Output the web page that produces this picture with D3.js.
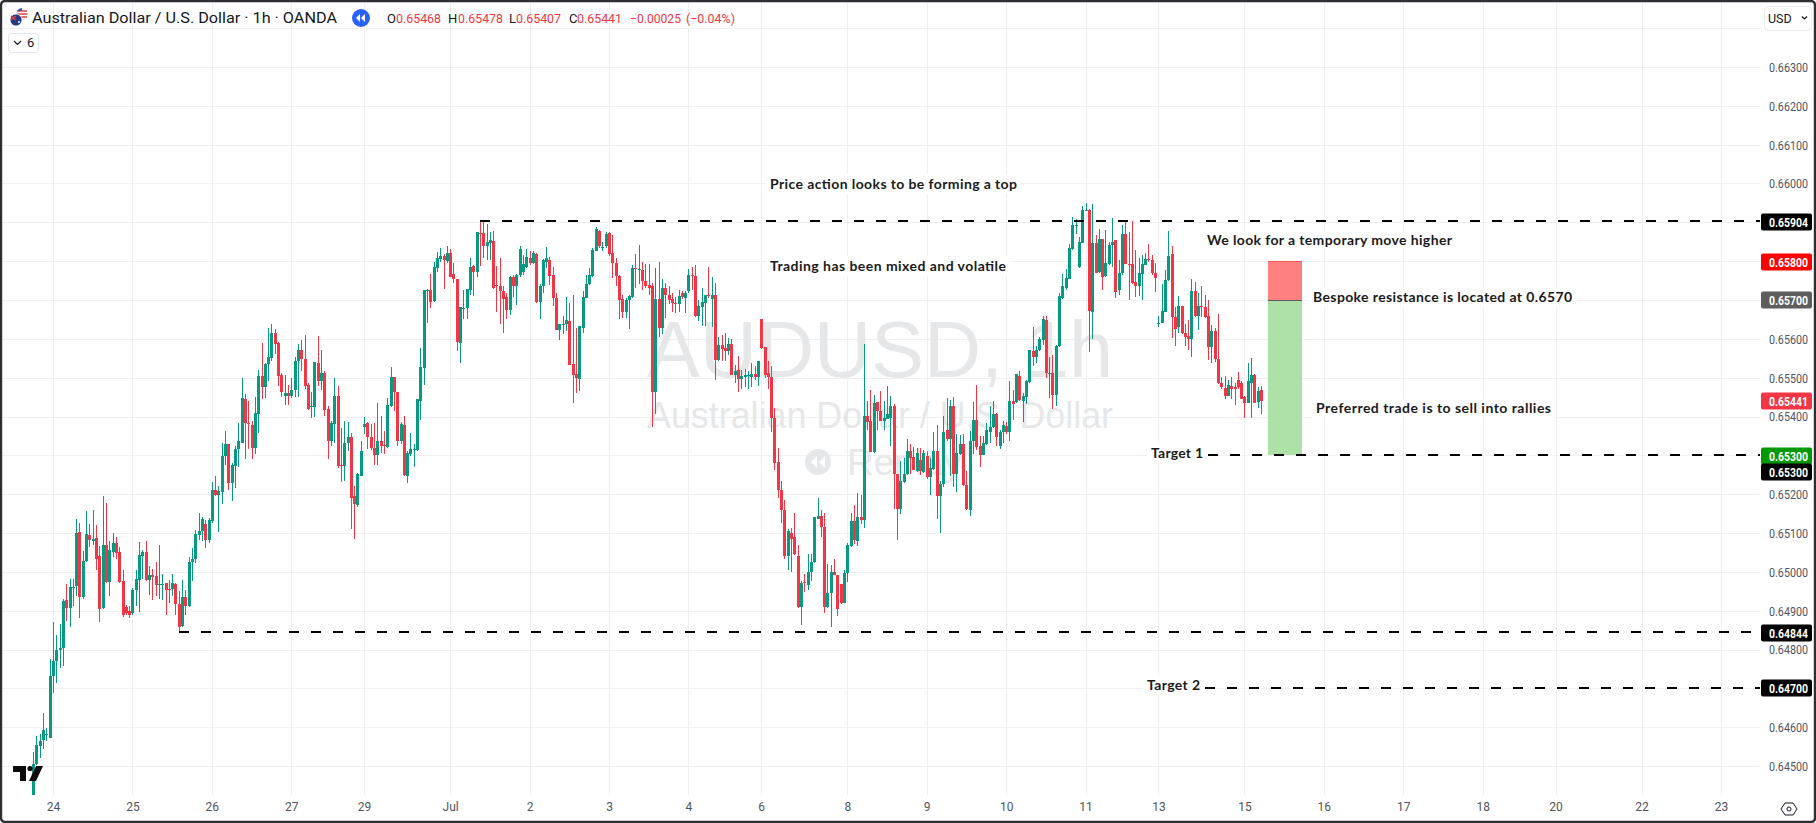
<!DOCTYPE html>
<html><head><meta charset="utf-8">
<style>html,body{margin:0;padding:0;background:#fff;overflow:hidden}svg{display:block}</style>
<script src="https://cdn.jsdelivr.net/npm/d3@7"></script></head><body>
<svg id="c" width="1816" height="823"></svg>
<script>
// --- data: prices in 1/100000 units, hourly bars; firstBar is the index of the first bar relative to the "24" tick
const firstBar = -6;
const opens = [64400,64505,64552,64566,64581,64573,64731,64771,64800,64805,
64928,64907,64961,64964,65103,64934,65027,65094,65080,65087,
65040,64906,65069,64974,65050,65074,65051,64976,64909,64899,
64893,64953,64980,65040,65051,64979,64992,64989,64966,64968,
64971,64955,64955,64969,64917,64860,64935,64911,65025,65032,
65096,65106,65122,65082,65130,65212,65198,65206,65299,65328,
65228,65272,65317,65333,65445,65384,65379,65320,65407,65504,
65476,65534,65551,65615,65590,65506,65452,65461,65452,65467,
65543,65571,65548,65481,65425,65424,65538,65492,65512,65420,
65337,65381,65452,65276,65273,65331,65346,65195,65171,65247,
65372,65384,65347,65320,65301,65337,65326,65321,65426,65502,
65463,65337,65379,65247,65304,65315,65315,65441,65526,65725,
65727,65697,65783,65806,65813,65801,65821,65767,65754,65588,
65678,65680,65726,65788,65772,65873,65872,65838,65848,65852,
65739,65736,65724,65709,65675,65760,65736,65765,65773,65784,
65808,65795,65819,65695,65736,65799,65803,65765,65706,65622,
65636,65639,65646,65536,65509,65497,65629,65706,65740,65762,
65827,65878,65834,65838,65872,65820,65795,65762,65702,65668,
65700,65707,65783,65778,65778,65750,65738,65735,65462,65702,
65628,65730,65712,65702,65693,65690,65719,65706,65722,65764,
65762,65658,65683,65693,65712,65702,65713,65546,65585,65576,
65568,65587,65508,65520,65497,65503,65504,65502,65509,65503,
65651,65579,65512,65502,65397,65284,65212,65158,65042,65099,
65089,65042,64910,64973,64965,64999,65025,65135,65145,65116,
64910,64946,65000,64991,64968,64921,64996,65066,65130,65079,
65140,65133,65402,65389,65308,65438,65415,65389,65394,65396,
65426,65251,65162,65231,65251,65312,65295,65259,65287,65257,
65299,65244,65265,65310,65195,65225,65364,65341,65428,65253,
65303,65330,65224,65159,65337,65392,65323,65302,65330,65361,
65372,65407,65323,65359,65375,65361,65439,65437,65505,65439,
65449,65488,65569,65553,65570,65598,65649,65510,65512,65455,
65582,65704,65730,65755,65832,65890,65784,65847,65929,65933,
65670,65847,65773,65856,65762,65793,65841,65854,65726,65769,
65870,65793,65793,65746,65736,65768,65791,65805,65803,65769,
65640,65642,65670,65751,65818,65657,65630,65684,65614,65607,
65599,65724,65659,65684,65683,65659,65578,65620,65547,65487,
65473,65454,65479,65477,65495,65485,65451,65436,65487,65507,
65438,65468];
const highs = [64536,64578,64583,64636,64599,64776,64871,64837,64866,64930,
64969,64982,64982,65136,65127,65053,65157,65122,65159,65121,
65066,65195,65177,65080,65099,65090,65064,65004,64915,64911,
64958,65006,65078,65055,65080,65016,65008,65025,65069,64995,
64972,64979,64995,64971,64950,64979,64953,65038,65061,65108,
65152,65140,65133,65138,65231,65247,65222,65331,65363,65328,
65280,65323,65383,65498,65458,65439,65389,65451,65520,65590,
65539,65628,65639,65626,65592,65513,65506,65481,65499,65552,
65587,65597,65610,65486,65463,65540,65608,65571,65517,65428,
65388,65499,65479,65370,65388,65386,65358,65222,65255,65337,
65399,65386,65381,65383,65435,65402,65363,65447,65527,65502,
65463,65386,65402,65312,65358,65328,65445,65576,65727,65728,
65766,65798,65824,65835,65819,65840,65832,65795,65755,65683,
65726,65729,65808,65790,65876,65902,65902,65895,65876,65878,
65788,65808,65735,65719,65762,65765,65767,65839,65816,65831,
65825,65826,65820,65742,65805,65836,65812,65784,65718,65639,
65659,65709,65692,65713,65628,65634,65722,65765,65782,65833,
65887,65880,65850,65874,65874,65868,65808,65765,65713,65705,
65713,65790,65819,65842,65799,65793,65793,65743,65782,65799,
65754,65743,65735,65718,65709,65726,65722,65722,65779,65786,
65790,65700,65730,65713,65784,65759,65743,65606,65610,65616,
65602,65599,65533,65555,65520,65522,65516,65538,65531,65544,
65652,65579,65542,65529,65422,65319,65235,65184,65111,65113,
65152,65068,64976,64994,65047,65047,65142,65189,65158,65152,
65021,65018,65032,64991,64968,65006,65075,65152,65171,65202,
65197,65587,65441,65469,65456,65438,65465,65439,65479,65452,
65431,65253,65285,65294,65341,65328,65321,65319,65319,65315,
65311,65294,65360,65377,65235,65401,65448,65443,65450,65356,
65353,65356,65259,65362,65438,65482,65349,65349,65383,65426,
65439,65409,65364,65389,65385,65491,65467,65510,65516,65461,
65495,65572,65630,65581,65606,65659,65659,65553,65559,65583,
65718,65767,65781,65843,65915,65909,65862,65941,65950,65935,
65947,65867,65884,65856,65880,65850,65910,65854,65803,65893,
65903,65876,65903,65830,65807,65816,65820,65844,65816,65794,
65659,65741,65777,65877,65839,65683,65710,65684,65637,65648,
65753,65747,65719,65736,65712,65700,65635,65627,65664,65502,
65504,65494,65502,65485,65515,65492,65453,65537,65550,65509,
65477,65478];
const lows = [64400,64503,64520,64543,64564,64571,64687,64714,64752,64758,
64874,64858,64911,64937,64881,64930,65025,65064,65069,65006,
64872,64904,64971,64939,65037,65032,64971,64883,64890,64881,
64890,64911,64897,64982,64976,64940,64928,64937,64929,64927,
64889,64921,64937,64890,64845,64858,64888,64909,64976,65022,
65082,65080,65062,65074,65127,65196,65103,65175,65275,65212,
65183,65217,65270,65331,65291,65317,65291,65304,65358,65445,
65447,65492,65544,65562,65479,65449,65429,65429,65447,65449,
65451,65517,65470,65418,65397,65399,65479,65468,65401,65291,
65323,65333,65268,65232,65235,65312,65110,65085,65168,65246,
65356,65316,65315,65275,65275,65305,65304,65318,65425,65415,
65323,65328,65247,65230,65299,65270,65312,65391,65481,65642,
65680,65695,65771,65798,65729,65795,65758,65745,65569,65539,
65652,65652,65713,65711,65758,65788,65808,65803,65803,65728,
65670,65639,65616,65651,65662,65709,65688,65760,65765,65782,
65790,65793,65692,65652,65718,65782,65738,65685,65622,65598,
65613,65619,65532,65436,65460,65465,65616,65705,65738,65760,
65825,65835,65826,65835,65814,65756,65736,65652,65653,65653,
65626,65705,65730,65742,65726,65730,65713,65373,65407,65606,
65613,65653,65690,65668,65666,65668,65702,65666,65719,65726,
65656,65647,65632,65632,65705,65630,65493,65544,65544,65544,
65559,65506,65486,65462,65471,65476,65471,65476,65495,65479,
65574,65500,65471,65359,65263,65189,65125,65034,65006,65000,
65044,64908,64862,64948,64953,64976,65023,65135,65090,64893,
64908,64858,64991,64886,64916,64919,64974,65065,65071,65066,
65122,65113,65365,65308,65306,65366,65388,65366,65395,65325,
65162,65081,65148,65229,65250,65251,65261,65257,65249,65255,
65240,65197,65263,65135,65099,65218,65336,65246,65219,65205,
65302,65222,65159,65145,65303,65315,65269,65300,65327,65332,
65370,65323,65317,65332,65356,65338,65390,65435,65440,65385,
65431,65486,65531,65538,65568,65585,65499,65448,65420,65426,
65580,65702,65727,65754,65830,65871,65783,65846,65929,65565,
65600,65769,65770,65726,65760,65789,65786,65704,65713,65764,
65792,65700,65741,65708,65710,65700,65790,65799,65764,65721,
65631,65640,65669,65749,65601,65581,65616,65612,65581,65570,
65552,65657,65623,65657,65653,65545,65539,65541,65484,65472,
65444,65453,65444,65430,65472,65444,65397,65434,65395,65434,
65421,65407];
const closes = [64504,64554,64564,64592,64582,64731,64771,64800,64805,64924,
64907,64961,64962,65100,64934,65029,65098,65082,65085,65034,
64905,65069,64974,65056,65074,65048,64974,64890,64895,64890,
64953,64982,65043,65051,64979,64993,64987,64966,64969,64969,
64952,64953,64971,64916,64858,64934,64911,65025,65032,65098,
65106,65135,65082,65133,65212,65198,65209,65299,65328,65228,
65275,65317,65336,65447,65384,65382,65320,65409,65504,65477,
65535,65552,65615,65587,65505,65463,65461,65452,65468,65543,
65571,65548,65479,65420,65427,65540,65492,65512,65418,65337,
65383,65452,65273,65274,65333,65346,65191,65175,65251,65310,
65381,65346,65319,65301,65337,65325,65325,65429,65502,65463,
65337,65381,65249,65307,65317,65317,65445,65528,65727,65727,
65695,65785,65808,65813,65803,65821,65759,65755,65592,65682,
65679,65729,65785,65771,65874,65871,65838,65849,65855,65730,
65737,65722,65703,65673,65760,65736,65765,65831,65793,65810,
65795,65822,65694,65736,65802,65808,65762,65706,65623,65639,
65639,65649,65533,65508,65498,65632,65709,65742,65765,65829,
65883,65838,65836,65870,65819,65795,65762,65700,65670,65700,
65711,65782,65780,65780,65750,65736,65730,65462,65702,65628,
65730,65712,65700,65692,65691,65711,65707,65719,65765,65762,
65658,65685,65696,65712,65710,65713,65546,65585,65574,65568,
65587,65508,65518,65497,65505,65506,65506,65509,65503,65542,
65576,65508,65502,65397,65279,65210,65158,65042,65105,65085,
65045,64910,64970,64971,65000,65026,65140,65145,65116,64910,
64946,65000,64991,64904,64919,64998,65068,65130,65081,65140,
65133,65402,65387,65309,65435,65415,65389,65396,65407,65426,
65253,65161,65233,65253,65312,65293,65261,65307,65259,65305,
65243,65268,65312,65194,65225,65361,65341,65428,65253,65305,
65330,65223,65161,65337,65392,65322,65302,65332,65366,65373,
65407,65346,65361,65377,65360,65440,65433,65510,65442,65452,
65491,65570,65552,65572,65599,65651,65512,65512,65455,65582,
65711,65736,65757,65835,65892,65892,65849,65931,65933,65672,
65846,65770,65856,65760,65794,65841,65850,65721,65769,65870,
65793,65790,65743,65737,65770,65793,65805,65802,65769,65757,
65642,65672,65751,65813,65657,65626,65684,65614,65605,65600,
65723,65659,65684,65682,65657,65578,65620,65547,65487,65475,
65453,65481,65472,65470,65477,65446,65436,65491,65507,65436,
65466,65441];

const timeBars   = [0,24,48,72,94,120,144,168,192,214,240,264,288,312,334,360,384,408,432,454,480,504];
const timeLabels = ["24","25","26","27","29","Jul","2","3","4","6","8","9","10","11","13","15","16","17","18","20","22","23"];
const priceTicks = [64500,64600,64700,64800,64900,65000,65100,65200,65300,65400,65500,65600,65700,65800,65900,66000,66100,66200,66300];
const gridPrices = priceTicks.concat([66400]);

const levelPrices = [65904,64844,65300,64700];
const levelStart  = [129,38,349,348];
const tagPrices = [65904,65800,65700,65441,65300,65300,64844,64700];
const tagColors = ["#000000","#ff0000","#5d5d5d","#f23645","#009900","#000000","#000000","#000000"];
const tagNudge  = [1,1,0,0,1,17,1,0];
const boxBars = [367,377.3];
const boxPrices = [65800,65700,65300];

const notes = ["Price action looks to be forming a top","Trading has been mixed and volatile","We look for a temporary move higher","Bespoke resistance is located at 0.6570","Preferred trade is to sell into rallies","Target 1","Target 2"];
const noteX = [770,770,1207,1313,1316,1151,1147];
const noteY = [184,266,240,297,408,453,685];
const noteW = [247,236,245,259,235,52,53];

const titleText = "Australian Dollar / U.S. Dollar · 1h · OANDA";
const ohlcKeys = ["O","H","L","C"];
const ohlcVals = ["0.65468","0.65478","0.65407","0.65441"];
const ohlcKeyX = [387,448,509,569];
const ohlcValX = [396,458,516,577];
const changeText = ["−0.00025","(−0.04%)"];
const changeX = [630,686];
const changeW = [51,49];

// --- scales
const W=1816,H=823,paneR=1760,paneB=795;
const x = d3.scaleLinear().domain([0,504]).range([53,1721]);
const y = d3.scaleLinear().domain([64500,66300]).range([766,67]);
const UP="#089981",DOWN="#f23645";
const UI="Roboto, 'Open Sans', sans-serif", NOTE="Lato, 'Open Sans', sans-serif", WM="'Liberation Sans', Arial, sans-serif";

const svg=d3.select("#c");
svg.append("rect").attr("width",W).attr("height",H).attr("fill","#fff");
const defs=svg.append("defs");
defs.append("clipPath").attr("id","pane").append("rect").attr("x",2).attr("y",3).attr("width",paneR-2).attr("height",paneB-3);

// --- grid
const grid=svg.append("g").attr("stroke","#f0f0f1").attr("stroke-width",1).attr("shape-rendering","crispEdges");
grid.selectAll("line.h").data(gridPrices).join("line").attr("class","h")
  .attr("x1",2).attr("x2",paneR).attr("y1",d=>Math.round(y(d))+.5).attr("y2",d=>Math.round(y(d))+.5);
grid.selectAll("line.v").data(timeBars).join("line").attr("class","v")
  .attr("y1",3).attr("y2",paneB).attr("x1",d=>Math.round(x(d))+.5).attr("x2",d=>Math.round(x(d))+.5);

// --- watermark
const wm=svg.append("g").attr("fill","#e6e7e9").attr("font-family",WM);
wm.append("text").attr("x",880).attr("y",377).attr("text-anchor","middle").attr("font-size",80).attr("textLength",466).attr("lengthAdjust","spacingAndGlyphs").text("AUDUSD, 1h");
wm.append("text").attr("x",880).attr("y",428).attr("text-anchor","middle").attr("font-size",37).attr("textLength",466).attr("lengthAdjust","spacingAndGlyphs").text("Australian Dollar / U.S. Dollar");
wm.append("circle").attr("cx",818).attr("cy",462).attr("r",13);
wm.append("path").attr("fill","#fff").attr("d","M817 456 l-6 6 6 6z M825 456 l-6 6 6 6z");
wm.append("text").attr("x",847).attr("y",475).attr("font-size",37).text("Replay");

// --- candles
const bars=d3.range(closes.length).map(i=>({b:firstBar+i,o:opens[i],h:highs[i],l:lows[i],c:closes[i]}));
const cg=svg.append("g").attr("clip-path","url(#pane)").attr("shape-rendering","crispEdges");
const col=d=>d.c>=d.o?UP:DOWN;
cg.selectAll("rect.w").data(bars).join("rect").attr("class","w")
  .attr("x",d=>Math.round(x(d.b))).attr("width",1)
  .attr("y",d=>y(d.h)).attr("height",d=>Math.max(1,y(d.l)-y(d.h))).attr("fill",col);
cg.selectAll("rect.b").data(bars).join("rect").attr("class","b")
  .attr("x",d=>Math.round(x(d.b))-1).attr("width",3)
  .attr("y",d=>Math.min(y(d.o),y(d.c))).attr("height",d=>Math.max(1,Math.abs(y(d.o)-y(d.c)))).attr("fill",col);

// --- position box
const bx0=Math.round(x(boxBars[0])),bx1=Math.round(x(boxBars[1]));
const box=svg.append("g").attr("shape-rendering","crispEdges");
box.append("rect").attr("x",bx0).attr("width",bx1-bx0).attr("y",y(boxPrices[0])).attr("height",y(boxPrices[1])-y(boxPrices[0])).attr("fill","#ff8080");
box.append("rect").attr("x",bx0).attr("width",bx1-bx0).attr("y",y(boxPrices[1])).attr("height",y(boxPrices[2])-y(boxPrices[1])).attr("fill","#ade1a8");
box.append("line").attr("x1",bx0).attr("x2",bx1).attr("y1",y(boxPrices[0])).attr("y2",y(boxPrices[0])).attr("stroke","#f55");
box.append("line").attr("x1",bx0).attr("x2",bx1).attr("y1",y(boxPrices[1])).attr("y2",y(boxPrices[1])).attr("stroke","#5d5d5d");

// --- annotations
const ng=svg.append("g");
notes.forEach((t,i)=>{
  const g=ng.append("g");
  const r=g.append("rect").attr("fill","#fff");
  g.append("text").attr("x",noteX[i]).attr("y",noteY[i]+5).attr("font-family",NOTE).attr("font-size",14).attr("font-weight",700)
    .attr("fill","#1a1a1a").attr("textLength",noteW[i]).attr("lengthAdjust","spacing").text(t);
  r.attr("x",noteX[i]-4).attr("y",noteY[i]-10).attr("width",noteW[i]+8).attr("height",20);
});

// --- dashed levels
svg.append("g").selectAll("line").data(levelPrices).join("line")
  .attr("x1",(d,i)=>x(levelStart[i])).attr("x2",paneR)
  .attr("y1",d=>Math.round(y(d))).attr("y2",d=>Math.round(y(d)))
  .attr("stroke","#000").attr("stroke-width",2).attr("stroke-dasharray","10 12").attr("shape-rendering","crispEdges");

// --- axes
const yAxis=d3.axisRight(y).tickValues(priceTicks).tickSize(0).tickPadding(0).tickFormat(d=>(d/1e5).toFixed(5));
const ya=svg.append("g").attr("transform",`translate(1769,0.5)`).call(yAxis);
ya.select(".domain").remove();
ya.selectAll("text").attr("font-family",UI).attr("font-size",12).attr("fill","#50535e").attr("textLength",39).attr("lengthAdjust","spacingAndGlyphs");
const xAxis=d3.axisBottom(x).tickValues(timeBars).tickSize(0).tickPadding(0).tickFormat((d,i)=>timeLabels[i]);
const xa=svg.append("g").attr("transform",`translate(0,802)`).call(xAxis);
xa.select(".domain").remove();
xa.selectAll("text").attr("font-family",UI).attr("font-size",12).attr("fill","#50535e");

// --- price tags
const tags=svg.append("g");
tagPrices.forEach((p,i)=>{
  const yc=Math.round(y(p))+tagNudge[i];
  tags.append("rect").attr("x",1761).attr("y",yc-8.5).attr("width",51).attr("height",17).attr("rx",2).attr("fill",tagColors[i]);
  tags.append("text").attr("x",1769).attr("y",yc+4.5).attr("font-family",UI).attr("font-size",12).attr("font-weight",700).attr("fill","#fff")
    .attr("textLength",39).attr("lengthAdjust","spacingAndGlyphs").text((p/1e5).toFixed(5));
});

// --- header
const head=svg.append("g").attr("font-family",UI);
head.append("text").attr("x",32).attr("y",23).attr("font-size",14).attr("fill","#131722").attr("textLength",305).attr("lengthAdjust","spacingAndGlyphs").text(titleText);
// flag pair
head.append("circle").attr("cx",22).attr("cy",14).attr("r",6).attr("fill","#f4f4f4");
head.append("path").attr("d","M17 11h10M16.5 14h11M17 17h10").attr("stroke","#e0454f").attr("stroke-width",1.4);
head.append("path").attr("d","M22 8a6 6 0 0 0-5 3h5z").attr("fill","#3a5fb0");
head.append("circle").attr("cx",16).attr("cy",20).attr("r",6).attr("fill","#24397f").attr("stroke","#fff").attr("stroke-width",.8);
head.append("path").attr("d","M11 16l5 4M16 16l-5 4").attr("stroke","#e0454f").attr("stroke-width",1.2);
head.append("circle").attr("cx",19).attr("cy",22).attr("r",1).attr("fill","#fff");
// replay badge
head.append("circle").attr("cx",361).attr("cy",18).attr("r",9).attr("fill","#2962ff");
head.append("path").attr("fill","#fff").attr("d","M360 14l-4 4 4 4z M365 14l-4 4 4 4z");
ohlcKeys.forEach((k,i)=>{
  head.append("text").attr("x",ohlcKeyX[i]).attr("y",23).attr("font-size",13).attr("fill","#131722").text(k);
  head.append("text").attr("x",ohlcValX[i]).attr("y",23).attr("font-size",13).attr("fill",DOWN).attr("textLength",45).attr("lengthAdjust","spacingAndGlyphs").text(ohlcVals[i]);
});
changeText.forEach((t,i)=>head.append("text").attr("x",changeX[i]).attr("y",23).attr("font-size",13).attr("fill",DOWN).attr("textLength",changeW[i]).attr("lengthAdjust","spacingAndGlyphs").text(t));
// indicator toggle
head.append("rect").attr("x",8.5).attr("y",33.5).attr("width",30).attr("height",19).attr("rx",3).attr("fill","#fff").attr("stroke","#e0e3eb");
head.append("path").attr("d","M14 41l3.5 3.5 3.5-3.5").attr("fill","none").attr("stroke","#131722").attr("stroke-width",1.2);
head.append("text").attr("x",27).attr("y",47).attr("font-size",13).attr("fill","#131722").text("6");
// currency button
head.append("rect").attr("x",1764.5).attr("y",6.5).attr("width",47).attr("height",24).attr("rx",4).attr("fill","#fff").attr("stroke","#e8eaef");
head.append("text").attr("x",1768).attr("y",22.5).attr("font-size",12.5).attr("fill","#131722").text("USD");
head.append("path").attr("d","M1802 16.5l2.5 2.5 2.5-2.5").attr("fill","none").attr("stroke","#131722").attr("stroke-width",1.2);
// settings hexagon
head.append("path").attr("d","M1781 809l4-6h8l4 6-4 6h-8z").attr("fill","none").attr("stroke","#131722").attr("stroke-width",1);
head.append("circle").attr("cx",1789).attr("cy",809).attr("r",2).attr("fill","none").attr("stroke","#131722");
// logo
const logo=svg.append("g").attr("fill","#0b0b0b");
logo.append("path").attr("d","M13 766h13v15h-6v-9h-7z");
logo.append("circle").attr("cx",30).attr("cy",768.5).attr("r",2.6);
logo.append("path").attr("d","M36 766h7l-7 15h-7z");

// --- frame
svg.append("rect").attr("x",1).attr("y",1).attr("width",W-2).attr("height",H-2).attr("rx",4).attr("fill","none").attr("stroke","#2e2e33").attr("stroke-width",2.4);
</script></body></html>
